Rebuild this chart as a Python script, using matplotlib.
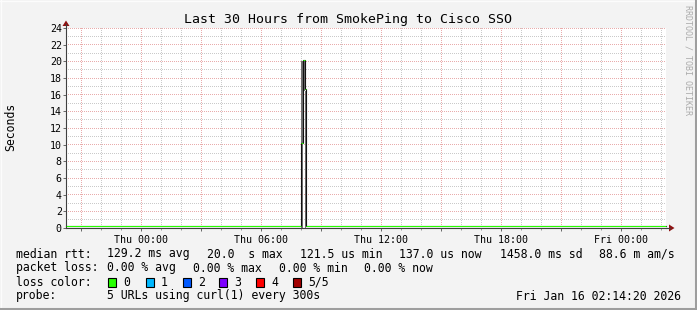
import matplotlib
matplotlib.use("Agg")
import numpy as np
import matplotlib.pyplot as plt
import matplotlib.dates as mdates
import matplotlib.transforms as mtransforms
from matplotlib.patches import Rectangle, Polygon
from matplotlib.lines import Line2D
from matplotlib.ticker import FuncFormatter, MultipleLocator
from matplotlib.colors import to_rgba
from datetime import datetime

# ---------------- data ----------------
title = "Last 30 Hours from SmokePing to Cisco SSO"
y_label = "Seconds"
watermark = "RRDTOOL / TOBI OETIKER"
t_start = "2026-01-14 20:14:20"
t_end = "2026-01-16 02:14:20"

# median RTT (seconds), step-wise change points
median_times = ["2026-01-14 20:14:20", "2026-01-15 08:00:00", "2026-01-15 08:05:00",
                "2026-01-15 08:10:00", "2026-01-15 08:15:00", "2026-01-16 02:14:20"]
median_values = [0.000137, 10.0, 20.0, 16.5, 0.000137, 0.000137]

# smoke (spread of the probe values), step-wise
smoke_times = ["2026-01-15 08:00:00", "2026-01-15 08:05:00", "2026-01-15 08:10:00", "2026-01-15 08:15:00"]
smoke_low = [0.0001, 16.5, 0.0001, 0.0001]
smoke_high = [20.0, 20.0, 16.5, 0.0001]

y_max = 24
y_ticks = list(range(0, 25, 2))

rtt_label = "median rtt:"
rtt_items = ["129.2 ms avg", "20.0  s max", "121.5 us min", "137.0 us now", "1458.0 ms sd", "88.6 m am/s"]
loss_label = "packet loss:"
loss_items = ["0.00 % avg", "0.00 % max", "0.00 % min", "0.00 % now"]
color_label = "loss color:"
loss_names = ["0", "1", "2", "3", "4", "5/5"]
loss_colors = ["#26ff00", "#00b8ff", "#0059ff", "#7e00ff", "#ff0000", "#a10000"]
probe_label = "probe:"
probe_text = "5 URLs using curl(1) every 300s"
stamp = "Fri Jan 16 02:14:20 2026"

# ---------------- layout/style ----------------
W, H = 697, 310
DPI = 100
BG = "#F3F3F3"
MONO = ["DejaVu Sans Mono"]
MGRID = "#E9ACAC"
GRID = "#CACACA"
AXIS = "#404040"
ARROW = "#8E1212"
GREEN = loss_colors[0]

def P(x, y):
    return (x / W, 1 - y / H)

fig = plt.figure(figsize=(W / DPI, H / DPI), dpi=DPI, facecolor=BG)
L, R, T, B = 66, 666, 28, 228
ax = fig.add_axes([L / W, 1 - B / H, (R - L) / W, (B - T) / H])
ax.set_facecolor("white")

to_dt = lambda s: datetime.strptime(s, "%Y-%m-%d %H:%M:%S")
mt = [to_dt(s) for s in median_times]
st = [to_dt(s) for s in smoke_times]

x0, x1 = to_dt(t_start), to_dt(t_end)
ax.set_xlim(x0, x1)
ax.set_ylim(0, y_max)

# ticks / locators
ax.xaxis.set_major_locator(mdates.HourLocator(byhour=range(0, 24, 3)))
ax.xaxis.set_minor_locator(mdates.HourLocator())
def xfmt(v, pos):
    d = mdates.num2date(v)
    return d.strftime("%a %H:%M") if d.hour % 6 == 0 else ""
ax.xaxis.set_major_formatter(FuncFormatter(xfmt))
ax.set_yticks(y_ticks)
ax.yaxis.set_minor_locator(MultipleLocator(1))

# dotted grid rendered pixel-exact (rrdtool style)
nx, ny = R - L, B - T
grid_img = np.zeros((ny, nx, 4))
def put_v(v, rgba):
    c = int(np.floor(ax.transData.transform((v, 0))[0] - L + 1e-6))
    if 0 <= c < nx:
        grid_img[0::2, c] = rgba
def put_h(v, rgba):
    r = int(np.floor((H - ax.transData.transform((mdates.date2num(x0), v))[1]) - T + 1e-6))
    if 0 <= r < ny:
        grid_img[r, 0::2] = rgba
g_rgba = to_rgba(GRID)
m_rgba = to_rgba(MGRID)
for v in ax.xaxis.get_minorticklocs():
    put_v(v, g_rgba)
for v in ax.yaxis.get_minorticklocs():
    put_h(v, g_rgba)
for v in ax.xaxis.get_majorticklocs():
    put_v(v, m_rgba)
for v in ax.get_yticks():
    put_h(v, m_rgba)
ax.imshow(grid_img, extent=(mdates.date2num(x0), mdates.date2num(x1), 0, y_max),
          aspect="auto", interpolation="nearest", origin="upper", zorder=0.5)
ax.set_xlim(x0, x1)
ax.set_ylim(0, y_max)

for s in ("top", "right"):
    ax.spines[s].set_visible(False)
for s in ("left", "bottom"):
    ax.spines[s].set_color(AXIS)
    ax.spines[s].set_linewidth(0.8)
    ax.spines[s].set_zorder(2)

ax.tick_params(axis="y", which="major", direction="out", length=2.0, width=0.7,
               color="#666666", pad=1.0, labelsize=7.2, labelfontfamily=MONO)
ax.tick_params(axis="y", which="minor", length=0)
ax.tick_params(axis="x", which="major", direction="out", length=2.2, width=0.7,
               color="#666666", pad=3.0, labelsize=7.2, labelfontfamily=MONO)
ax.tick_params(axis="x", which="minor", direction="out", length=1.4, width=0.7, color="#999999")

# smoke
ax.fill_between(st, smoke_low, smoke_high, step="post", color="#707070", lw=0, zorder=3)
# median line (lifted 1.5px as rrdtool renders it above the axis)
lift = ax.transData + mtransforms.ScaledTranslation(0, 1.5 / DPI, fig.dpi_scale_trans)
ax.plot(mt, median_values, drawstyle="steps-post", color="#111111", lw=0.8, zorder=4,
        transform=lift, clip_on=False)
for i in range(len(mt) - 1):
    ax.hlines(median_values[i], mt[i], mt[i + 1], color=GREEN, lw=0.75, zorder=5,
              transform=lift, clip_on=False)

# axis extensions and arrows
fig.add_artist(Line2D([P(L, 0)[0]] * 2, [P(0, T)[1], P(0, 24)[1]], color=AXIS, lw=0.8))
fig.add_artist(Line2D([P(R, 0)[0], P(670, 0)[0]], [P(0, B)[1]] * 2, color=AXIS, lw=0.8))
fig.add_artist(Polygon([P(L - 3.5, 26), P(L + 3.5, 26), P(L, 20.5)], closed=True,
                       transform=fig.transFigure, color=ARROW, lw=0))
fig.add_artist(Polygon([P(669, B - 3.5), P(669, B + 3.5), P(674.5, B)], closed=True,
                       transform=fig.transFigure, color=ARROW, lw=0))

# title, labels, watermark
fig.text(*P(347.5, 20), title, ha="center", va="center", fontsize=9.5, family=MONO)
fig.text(*P(11, 127), y_label, ha="center", va="center", rotation=90, fontsize=8.3, family=MONO)
fig.text(*P(688, 60), watermark, ha="center", va="center", rotation=270, fontsize=6,
         family=MONO, color="#ABABAB")

# legend
LS = 8.3
def row_text(x, y, s, **kw):
    fig.text(*P(x, y), s, ha=kw.pop("ha", "left"), va="center", fontsize=LS, family=MONO, **kw)

row_text(15.5, 254, rtt_label)
for s, x in zip(rtt_items, [106.8, 206.8, 300.2, 399.5, 500.2, 598.8]):
    row_text(x, 254, s)
row_text(15.5, 268, loss_label)
for s, x in zip(loss_items, [106.8, 192.8, 278.8, 364.5]):
    row_text(x, 268, s)
row_text(15.5, 282, color_label)
box_x = [108.3, 145.7, 182.7, 219.3, 256.0, 293.3]
for name, col, bx in zip(loss_names, loss_colors, box_x):
    bx0, by0 = P(bx, 286.5)
    fig.add_artist(Rectangle((bx0, by0), 8 / W, 9 / H, transform=fig.transFigure,
                             facecolor=col, edgecolor="black", lw=0.8))
    row_text(bx + 15.2, 282, name)
row_text(15.5, 296, probe_label)
row_text(106.8, 296, probe_text)
row_text(681, 296, stamp, ha="right")

# 3D frame
fig.add_artist(Line2D([0, 1], [P(0, 0.5)[1]] * 2, color="#FCFCFC", lw=1))
fig.add_artist(Line2D([P(0.5, 0)[0]] * 2, [0, 1], color="#FCFCFC", lw=1))
fig.add_artist(Line2D([0, 1], [P(0, 308.5)[1]] * 2, color="#9E9E9E", lw=2.2))
fig.add_artist(Line2D([P(695.5, 0)[0]] * 2, [0, 1], color="#9E9E9E", lw=2.2))

fig.savefig("out.png", dpi=DPI, facecolor=BG)
